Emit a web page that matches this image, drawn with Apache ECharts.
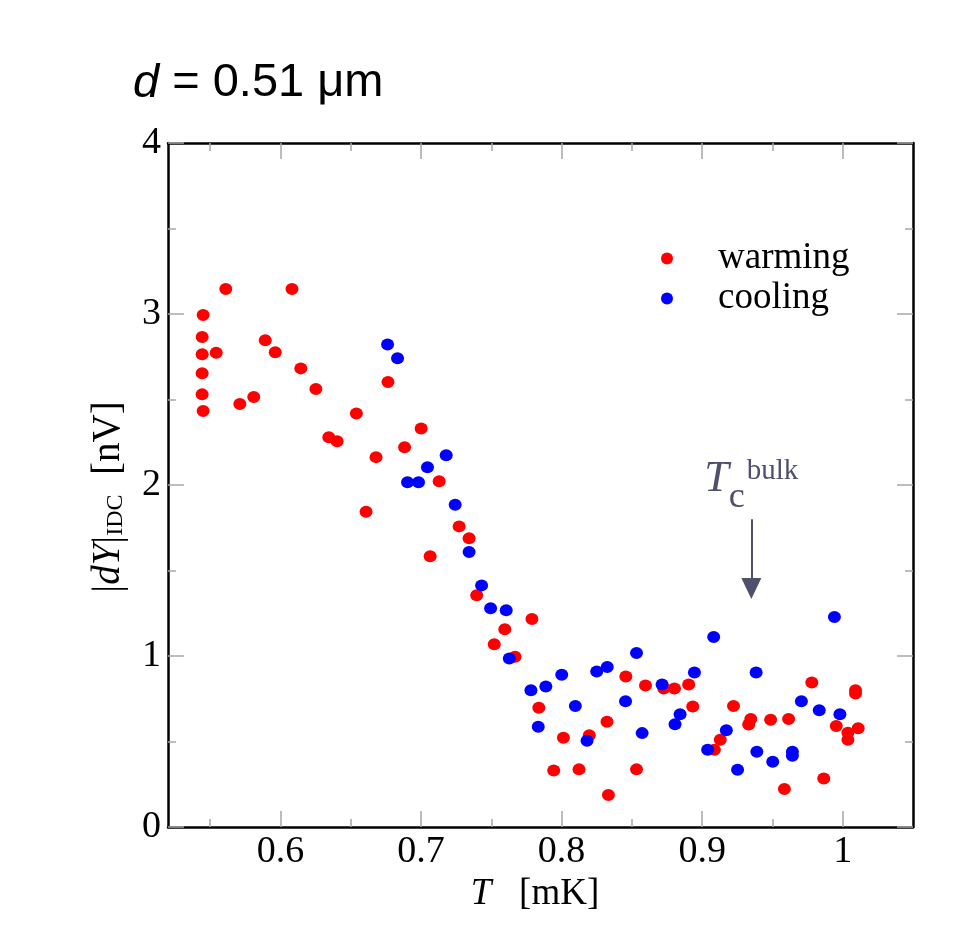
<!DOCTYPE html>
<html>
<head>
<meta charset="utf-8">
<script src="https://cdn.jsdelivr.net/npm/echarts@6/dist/echarts.min.js"></script>
<style>
html,body{margin:0;padding:0;background:#fff;}
#chart{width:975px;height:948px;}
</style>
</head>
<body>
<div id="chart"></div>
<script>
// ---- data ----
var warming = [
  [0.5611, 3.146], [0.6082, 3.146], [0.545, 2.994], [0.5443, 2.865], [0.5443, 2.764],
  [0.5543, 2.774], [0.5443, 2.653], [0.5443, 2.530], [0.545, 2.433], [0.5711, 2.474],
  [0.581, 2.515], [0.5892, 2.846], [0.5963, 2.776], [0.6145, 2.682], [0.6252, 2.562],
  [0.654, 2.418], [0.6344, 2.279], [0.6403, 2.256], [0.668, 2.163], [0.6609, 1.843],
  [0.6765, 2.603], [0.7001, 2.330], [0.6883, 2.221], [0.7129, 2.022], [0.7271, 1.758],
  [0.7342, 1.688], [0.7065, 1.584], [0.7396, 1.355], [0.7789, 1.217], [0.7596, 1.156],
  [0.7521, 1.069], [0.7669, 0.995], [0.7838, 0.697], [0.8013, 0.522], [0.8197, 0.537],
  [0.8323, 0.615], [0.8457, 0.880], [0.8597, 0.827], [0.8727, 0.810], [0.8803, 0.810],
  [0.8904, 0.833], [0.8933, 0.705], [0.7944, 0.331], [0.8124, 0.337], [0.8533, 0.337],
  [0.8333, 0.187], [0.9780, 0.845], [1.0091, 0.800], [1.0091, 0.780], [0.9223, 0.707],
  [0.9346, 0.631], [0.9331, 0.600], [0.9487, 0.627], [0.9615, 0.631], [0.9954, 0.590],
  [1.0037, 0.551], [1.011, 0.578], [1.0037, 0.510], [0.9129, 0.510], [0.9087, 0.452],
  [0.9865, 0.284], [0.9585, 0.222]
];
var cooling = [
  [0.6762, 2.822], [0.6833, 2.741], [0.7179, 2.174], [0.7046, 2.104], [0.6904, 2.016],
  [0.6982, 2.016], [0.7243, 1.884], [0.7342, 1.608], [0.7431, 1.413], [0.7495, 1.279],
  [0.7606, 1.267], [0.7628, 0.985], [0.7782, 0.800], [0.7888, 0.821], [0.8001, 0.891],
  [0.8098, 0.707], [0.7834, 0.586], [0.8181, 0.504], [0.825, 0.909], [0.8325, 0.936],
  [0.8533, 1.018], [0.8455, 0.736], [0.8715, 0.833], [0.8945, 0.903], [0.8843, 0.660],
  [0.8807, 0.601], [0.8573, 0.549], [0.9941, 1.228], [0.9082, 1.111], [0.9384, 0.903],
  [0.9706, 0.736], [0.9833, 0.683], [0.998, 0.660], [0.9172, 0.566], [0.9039, 0.452],
  [0.9389, 0.440], [0.9502, 0.381], [0.9642, 0.440], [0.9642, 0.416], [0.9252, 0.335]
];
var xMajorTicks = [0.6, 0.7, 0.8, 0.9, 1.0];
var xMinorTicks = [0.55, 0.65, 0.75, 0.85, 0.95];
var xRange = [0.52, 1.05];
var yRange = [0, 4];
var tcBulk = 0.935;          // arrow position [mK]
var tcArrowY = [1.80, 1.395]; // arrow start / arrowhead centre in nV

var SERIF = '"Liberation Serif","Times New Roman",serif';
var SANS = '"Liberation Sans",Arial,sans-serif';
var tickColor = '#a8a8a8';
var tcColor = '#50506c';

function xAxisDef(pos, ticks, len, labels, line) {
  return {
    type: 'value', position: pos, min: xRange[0], max: xRange[1],
    axisLine: { show: line, onZero: false, lineStyle: { color: '#000', width: 2.5 } },
    axisTick: { show: true, inside: true, length: len, customValues: ticks,
                lineStyle: { color: tickColor, width: 1.5 } },
    axisLabel: labels ? { show: true, customValues: ticks, margin: 6,
                fontFamily: SERIF, fontSize: 38, color: '#000' } : { show: false },
    splitLine: { show: false }
  };
}
function yAxisDef(pos, labels) {
  return {
    type: 'value', position: pos, min: yRange[0], max: yRange[1], interval: 1,
    axisLine: { show: true, onZero: false, lineStyle: { color: '#000', width: 2.5 } },
    axisTick: { show: true, inside: true, length: 16, lineStyle: { color: tickColor, width: 1.5 } },
    minorTick: { show: true, splitNumber: 2, length: 8, lineStyle: { color: tickColor, width: 1.5 } },
    axisLabel: labels ? { show: true, margin: 7, fontFamily: SERIF, fontSize: 38, color: '#000' } : { show: false },
    splitLine: { show: false }, minorSplitLine: { show: false }
  };
}

var xa0 = xAxisDef('bottom', xMajorTicks, 16, true, true);
xa0.name = '{i|T}   [mK]';
xa0.nameLocation = 'middle';
xa0.nameGap = 48;
xa0.nameTextStyle = { fontFamily: SERIF, fontSize: 37, color: '#000', padding: [0, 11, 0, 0],
  rich: { i: { fontFamily: SERIF, fontSize: 37, fontStyle: 'italic', color: '#000' } } };

var ya0 = yAxisDef('left', true);
ya0.name = '|{i|dY}|{s|IDC}  [nV]';
ya0.nameLocation = 'middle';
ya0.nameRotate = 90;
ya0.nameGap = 40;
ya0.nameTextStyle = { fontFamily: SERIF, fontSize: 39, color: '#000', padding: [0, 24, 0, 0],
  rich: {
    i: { fontFamily: SERIF, fontSize: 39, fontStyle: 'italic', color: '#000' },
    s: { fontFamily: SERIF, fontSize: 24, color: '#000', padding: [15, 0, 0, 0] }
  } };

var option = {
  backgroundColor: '#fff',
  animation: false,
  title: {
    text: '{i|d} = 0.51 μm', left: 128, top: 55,
    textStyle: { fontFamily: SANS, fontSize: 47, fontWeight: 'normal', color: '#000',
      rich: { i: { fontFamily: SANS, fontSize: 47, fontStyle: 'italic', color: '#000' } } }
  },
  legend: {
    left: 661, top: 240, orient: 'vertical', icon: 'circle', padding: 0,
    itemWidth: 12, itemHeight: 12, itemGap: 3,
    data: ['warming', 'cooling'],
    textStyle: { fontFamily: SERIF, fontSize: 37, lineHeight: 37, color: '#000', padding: [0, 0, 0, 40] }
  },
  grid: { left: 168, right: 62, top: 143, bottom: 121 },
  xAxis: [
    xa0,
    xAxisDef('bottom', xMinorTicks, 8, false, false),
    xAxisDef('top', xMajorTicks, 16, false, true),
    xAxisDef('top', xMinorTicks, 8, false, false)
  ],
  yAxis: [ ya0, yAxisDef('right', false) ],
  series: [
    {
      name: 'warming', type: 'scatter', data: warming, symbol: 'circle', symbolSize: [13, 12],
      itemStyle: { color: '#ff0000', opacity: 1 }, xAxisIndex: 0, yAxisIndex: 0, silent: true,
      markLine: {
        silent: true, symbol: ['none', 'triangle'], symbolSize: [20, 21],
        lineStyle: { color: tcColor, width: 2, type: 'solid' },
        label: {
          show: true, position: 'start', distance: 4,
          formatter: '{T|T}{c|c}{b|bulk}',
          rich: {
            T: { fontFamily: SERIF, fontSize: 44, fontStyle: 'italic', color: tcColor, lineHeight: 72, verticalAlign: 'middle' },
            c: { fontFamily: SERIF, fontSize: 36, color: tcColor, lineHeight: 36, verticalAlign: 'bottom' },
            b: { fontFamily: SERIF, fontSize: 29, color: tcColor, lineHeight: 29, verticalAlign: 'top', padding: [14, 0, 0, 2] }
          }
        },
        data: [[ { coord: [tcBulk, tcArrowY[0]] }, { coord: [tcBulk, tcArrowY[1]] } ]]
      }
    },
    {
      name: 'cooling', type: 'scatter', data: cooling, symbol: 'circle', symbolSize: [13, 12],
      itemStyle: { color: '#0000ff', opacity: 1 }, xAxisIndex: 0, yAxisIndex: 0, silent: true
    }
  ]
};

var chart = echarts.init(document.getElementById('chart'), null, { renderer: 'canvas' });
chart.setOption(option);
</script>
</body>
</html>
